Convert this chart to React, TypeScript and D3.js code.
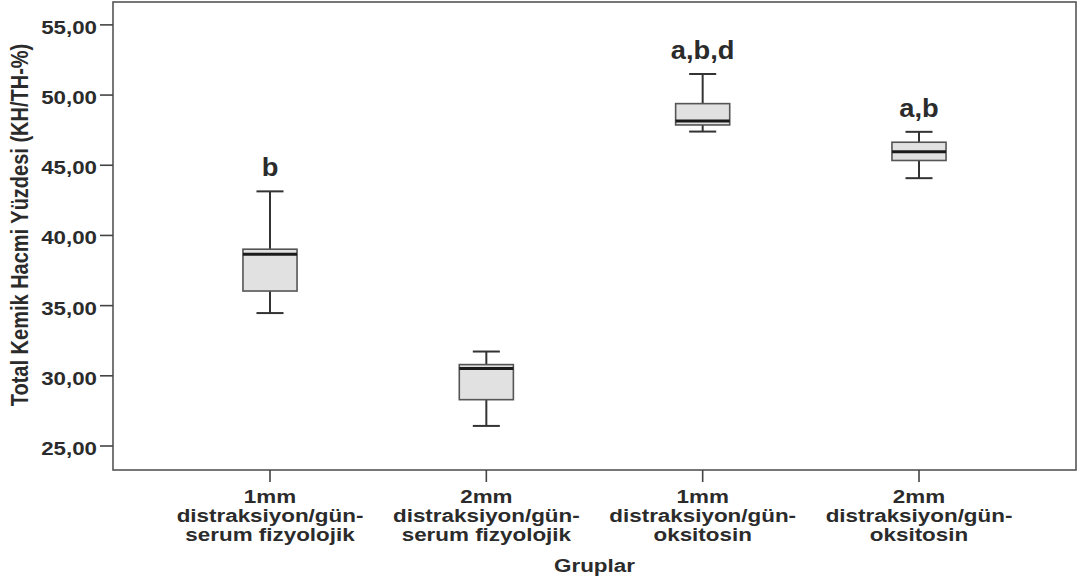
import React, { useRef, useEffect } from 'react';
import * as d3 from 'd3';

const groups = [
  ['1mm', 'distraksiyon/gün-', 'serum fizyolojik'],
  ['2mm', 'distraksiyon/gün-', 'serum fizyolojik'],
  ['1mm', 'distraksiyon/gün-', 'oksitosin'],
  ['2mm', 'distraksiyon/gün-', 'oksitosin'],
];
const whiskerLow = [34.47, 26.43, 47.4, 44.08];
const q1 = [36.04, 28.3, 47.87, 45.34];
const median = [38.66, 30.52, 48.16, 45.96];
const q3 = [39.02, 30.8, 49.39, 46.64];
const whiskerHigh = [43.14, 31.73, 51.5, 47.38];
const letters = ['b', '', 'a,b,d', 'a,b'];
const yTicks = [25, 30, 35, 40, 45, 50, 55];

const W = 1081;
const H = 585;
const SX = 1.24; // the source picture's text is widened
const FONT = 'Liberation Sans, Arial, sans-serif';

export default function App() {
  const svgRef = useRef<SVGSVGElement>(null);

  useEffect(() => {
    const svg = d3.select(svgRef.current);
    svg.selectAll('*').remove();

    const left = 113, right = 1076, top = 2, bottom = 470;
    const idx = groups.map((_, i) => i);

    const x = d3.scalePoint<number>().domain(idx).range([left, right]).padding(0.7257);
    const y = d3.scaleLinear().domain([23.29, 56.63]).range([bottom, top]);
    const boxW = x.step() * 0.25;

    const text = (px: number, py: number, s: string, size: number, anchor = 'middle', sx = SX) =>
      svg.append('text')
        .attr('transform', `translate(${px},${py}) scale(${sx},1)`)
        .attr('text-anchor', anchor)
        .attr('font-family', FONT).attr('font-weight', 'bold')
        .attr('font-size', size).attr('fill', '#2b2b2b')
        .text(s);

    // frame
    svg.append('rect')
      .attr('x', left).attr('y', top).attr('width', right - left).attr('height', bottom - top)
      .attr('fill', 'white').attr('stroke', '#555').attr('stroke-width', 1.6);

    // y axis
    yTicks.forEach((t) => {
      svg.append('line').attr('x1', left - 13).attr('x2', left)
        .attr('y1', y(t)).attr('y2', y(t)).attr('stroke', '#444').attr('stroke-width', 1.6);
      text(97, y(t) + 9, d3.format('.2f')(t).replace('.', ','), 18, 'end');
    });

    // x axis
    idx.forEach((i) => {
      const cx = x(i)!;
      svg.append('line').attr('x1', cx).attr('x2', cx)
        .attr('y1', bottom).attr('y2', bottom + 12).attr('stroke', '#444').attr('stroke-width', 1.6);
      groups[i].forEach((line, k) => text(cx, 503 + k * 19, line, 19, 'middle', 1.18));
    });

    text((left + right) / 2, 572, 'Gruplar', 19, 'middle', 1.18);

    svg.append('text')
      .attr('transform', `translate(28,225) scale(${SX},1) rotate(-90)`)
      .attr('text-anchor', 'middle')
      .attr('font-family', FONT).attr('font-weight', 'bold')
      .attr('font-size', 20).attr('fill', '#2b2b2b')
      .text('Total Kemik Hacmi Yüzdesi (KH/TH-%)');

    // boxes
    idx.forEach((i) => {
      const cx = x(i)!;
      const g = svg.append('g');
      const cap = boxW / 2;
      g.append('line').attr('x1', cx).attr('x2', cx)
        .attr('y1', y(whiskerHigh[i])).attr('y2', y(q3[i])).attr('stroke', '#333').attr('stroke-width', 2);
      g.append('line').attr('x1', cx).attr('x2', cx)
        .attr('y1', y(q1[i])).attr('y2', y(whiskerLow[i])).attr('stroke', '#333').attr('stroke-width', 2);
      [whiskerHigh[i], whiskerLow[i]].forEach((v) => {
        g.append('line').attr('x1', cx - cap / 2).attr('x2', cx + cap / 2)
          .attr('y1', y(v)).attr('y2', y(v)).attr('stroke', '#333').attr('stroke-width', 2);
      });
      g.append('rect')
        .attr('x', cx - boxW / 2).attr('width', boxW)
        .attr('y', y(q3[i])).attr('height', y(q1[i]) - y(q3[i]))
        .attr('fill', '#e1e1e1').attr('stroke', '#555').attr('stroke-width', 1.6);
      g.append('line').attr('x1', cx - boxW / 2).attr('x2', cx + boxW / 2)
        .attr('y1', y(median[i])).attr('y2', y(median[i])).attr('stroke', '#1a1a1a').attr('stroke-width', 3);

      if (letters[i]) text(cx, y(whiskerHigh[i]) - 15, letters[i], 26, 'middle', 1.05);
    });
  }, []);

  return (
    <svg ref={svgRef} width={W} height={H}
      style={{ position: 'absolute', left: 0, top: 0, background: 'white' }} />
  );
}
